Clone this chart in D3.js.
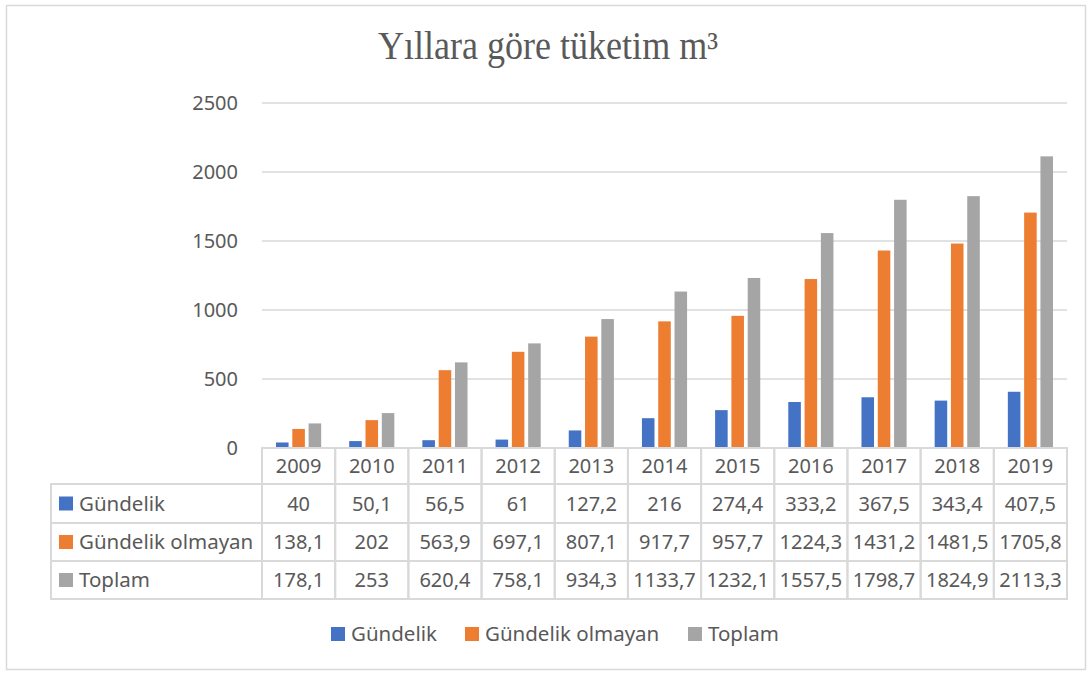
<!DOCTYPE html>
<html lang="tr">
<head>
  <meta charset="utf-8"/>
  <title>Yıllara göre tüketim</title>
  <script src="https://d3js.org/d3.v7.min.js"></script>
  <style>
  body { margin: 0; background: #fff; }
  .grid { stroke: #d9d9d9; stroke-width: 1.3px; }
  .cell { fill: none; stroke: #d9d9d9; stroke-width: 2px; }
  .txt { font-family: "Noto Sans", sans-serif; font-size: 20px; fill: #595959; }
  </style>
</head>
<body>
<svg id="chart" width="1092" height="675"></svg>
<script>
  // data
  const years = ["2009","2010","2011","2012","2013","2014","2015","2016","2017","2018","2019"];
  const gundelik = [40, 50.1, 56.5, 61, 127.2, 216, 274.4, 333.2, 367.5, 343.4, 407.5];
  const gundelikOlmayan = [138.1, 202, 563.9, 697.1, 807.1, 917.7, 957.7, 1224.3, 1431.2, 1481.5, 1705.8];
  const toplam = [178.1, 253, 620.4, 758.1, 934.3, 1133.7, 1232.1, 1557.5, 1798.7, 1824.9, 2113.3];
  const seriesNames = ["Gündelik", "Gündelik olmayan", "Toplam"];
  const colors = ["#4472c4", "#ed7d31", "#a5a5a5"];
  const yTicks = [0, 500, 1000, 1500, 2000, 2500];

  const series = [gundelik, gundelikOlmayan, toplam];
  const fmt = v => String(v).replace(".", ",");

  const svg = d3.select("#chart");

  // outer frame
  svg.append("rect")
    .attr("x", 6.5).attr("y", 5.5)
    .attr("width", 1079).attr("height", 664)
    .attr("fill", "#fff").attr("stroke", "#d9d9d9").attr("stroke-width", 1.5);

  svg.append("text")
    .attr("x", 548).attr("y", 59)
    .attr("text-anchor", "middle")
    .attr("textLength", 340)
    .attr("lengthAdjust", "spacingAndGlyphs")
    .style("font-family", "'Liberation Serif', serif")
    .style("font-size", "39px")
    .style("fill", "#595959")
    .text("Yıllara göre tüketim m³");

  const plotLeft = 262, plotRight = 1067, plotTop = 103, plotBottom = 448;

  const x = d3.scaleBand().domain(years).range([plotLeft, plotRight]);
  const x1 = d3.scaleBand().domain(seriesNames).range([0, x.bandwidth()])
    .paddingInner(0.23).paddingOuter(0.86);
  const y = d3.scaleLinear().domain([0, 2500]).range([plotBottom, plotTop]);

  // gridlines
  svg.append("g").selectAll("line").data(yTicks.slice(1))
    .enter().append("line")
    .attr("class", "grid")
    .attr("x1", plotLeft).attr("x2", plotRight)
    .attr("y1", d => y(d)).attr("y2", d => y(d));

  // y tick labels
  svg.append("g").selectAll("text").data(yTicks)
    .enter().append("text")
    .attr("class", "txt")
    .attr("x", 238).attr("y", d => y(d))
    .attr("dy", "0.35em")
    .attr("text-anchor", "end")
    .text(d => d);

  // bars
  seriesNames.forEach(function(name, i) {
    svg.append("g").selectAll("rect").data(series[i])
      .enter().append("rect")
      .attr("x", (d, j) => x(years[j]) + x1(name))
      .attr("width", x1.bandwidth())
      .attr("y", d => y(d))
      .attr("height", d => y(0) - y(d))
      .attr("fill", colors[i]);
  });

  // data table
  const rowTops = [448, 484, 523, 561];
  const rowBottom = 599;
  const tableLeft = 51;
  const rowH = (i) => (i < 3 ? rowTops[i + 1] : rowBottom) - rowTops[i];

  const table = svg.append("g");
  // header row
  years.forEach(function(yr) {
    table.append("rect").attr("class", "cell")
      .attr("x", x(yr)).attr("y", rowTops[0])
      .attr("width", x.bandwidth()).attr("height", rowH(0));
    table.append("text").attr("class", "txt")
      .attr("x", x(yr) + x.bandwidth() / 2)
      .attr("y", rowTops[0] + rowH(0) / 2)
      .attr("dy", "0.35em").attr("text-anchor", "middle")
      .text(yr);
  });
  // series rows
  seriesNames.forEach(function(name, i) {
    const ty = rowTops[i + 1], h = rowH(i + 1);
    table.append("rect").attr("class", "cell")
      .attr("x", tableLeft).attr("y", ty)
      .attr("width", plotLeft - tableLeft).attr("height", h);
    table.append("rect")
      .attr("x", 59).attr("y", ty + h / 2 - 7)
      .attr("width", 14).attr("height", 14)
      .attr("fill", colors[i]);
    table.append("text").attr("class", "txt")
      .attr("x", 79).attr("y", ty + h / 2)
      .attr("dy", "0.35em")
      .style("font-size", "20.5px")
      .text(name);
    series[i].forEach(function(v, j) {
      table.append("rect").attr("class", "cell")
        .attr("x", x(years[j])).attr("y", ty)
        .attr("width", x.bandwidth()).attr("height", h);
      table.append("text").attr("class", "txt")
        .attr("x", x(years[j]) + x.bandwidth() / 2)
        .attr("y", ty + h / 2)
        .attr("dy", "0.35em").attr("text-anchor", "middle")
        .text(fmt(v));
    });
  });

  // legend
  const legendX = [331, 465, 688];
  const legend = svg.append("g");
  seriesNames.forEach(function(name, i) {
    legend.append("rect")
      .attr("x", legendX[i]).attr("y", 627)
      .attr("width", 14).attr("height", 14)
      .attr("fill", colors[i]);
    legend.append("text").attr("class", "txt")
      .attr("x", legendX[i] + 20).attr("y", 634)
      .attr("dy", "0.35em")
      .style("font-size", "20.5px")
      .text(name);
  });
</script>
</body>
</html>
